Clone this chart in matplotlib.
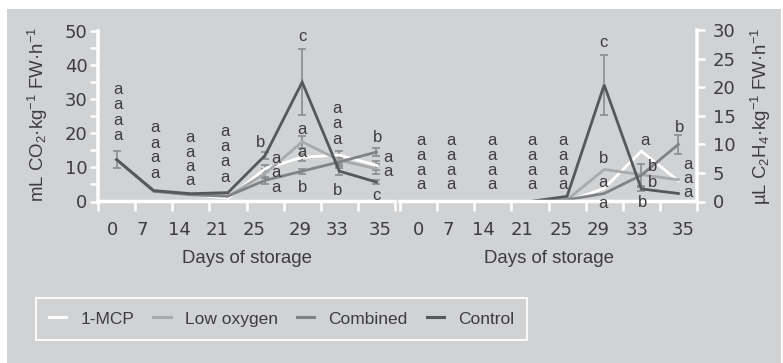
import numpy as np
import matplotlib
matplotlib.use("Agg")
import matplotlib.pyplot as plt
from matplotlib.patches import Rectangle
from matplotlib.lines import Line2D
from matplotlib.ticker import FixedLocator, NullFormatter

plt.rcParams['font.family'] = ['Liberation Sans', 'DejaVu Sans']
plt.rcParams['mathtext.fontset'] = 'custom'
plt.rcParams['mathtext.rm'] = 'Liberation Sans'
plt.rcParams['mathtext.it'] = 'Liberation Sans:italic'
plt.rcParams['mathtext.bf'] = 'Liberation Sans:bold'

# ---------------- data ----------------
days = ["0", "7", "14", "21", "25", "29", "33", "35"]
series = ["1-MCP", "Low oxygen", "Combined", "Control"]

# respiration rate (mL CO2 kg-1 FW h-1)
co2_1mcp = [12.3, 3.0, 2.0, 1.0, 9.6, 13.0, 13.6, 10.6]
co2_low = [12.3, 3.0, 2.0, 1.5, 8.2, 17.5, 12.1, 9.6]
co2_comb = [12.3, 3.0, 2.0, 1.6, 6.2, 8.9, 11.6, 14.5]
co2_ctrl = [12.3, 3.2, 2.3, 2.6, 13.5, 35.0, 8.9, 5.7]

co2_err_1mcp = [0, 0, 0, 0, 1.0, 1.0, 1.3, 1.3]
co2_err_low = [0, 0, 0, 0, 1.2, 1.7, 1.0, 1.5]
co2_err_comb = [0, 0, 0, 0, 1.0, 0.7, 1.2, 1.1]
co2_err_ctrl = [2.6, 0, 0, 0, 1.0, 9.6, 1.0, 0.6]

# ethylene production (uL C2H4 kg-1 FW h-1)
eth_1mcp = [0, 0, 0, 0, 0.0, 2.3, 8.8, 3.6]
eth_low = [0, 0, 0, 0, 0.3, 5.6, 4.7, 3.8]
eth_comb = [0, 0, 0, 0, 0.3, 1.4, 4.6, 10.0]
eth_ctrl = [0, 0, 0, 0, 0.9, 20.4, 2.2, 1.4]

eth_err_1mcp = [0, 0, 0, 0, 0, 0, 0, 0]
eth_err_low = [0, 0, 0, 0, 0, 0, 0, 0]
eth_err_comb = [0, 0, 0, 0, 0, 0, 1.9, 1.7]
eth_err_ctrl = [0, 0, 0, 0, 0, 5.3, 0.4, 0]

# significance letters per day
co2_sig = [["a", "a", "a", "a"], ["a", "a", "a", "a"], ["a", "a", "a", "a"],
           ["a", "a", "a", "a"], ["b", "a", "a", "a"], ["c", "a", "a", "b"],
           ["a", "a", "a", "b"], ["b", "a", "a", "c"]]
eth_sig = [["a", "a", "a", "a"], ["a", "a", "a", "a"], ["a", "a", "a", "a"],
           ["a", "a", "a", "a"], ["a", "a", "a", "a"], ["c", "b", "a", "a"],
           ["a", "b", "b", "b"], ["b", "a", "a", "a"]]

# ---------------- placement of letters (layout) ----------------
co2_sig_y = [[32.7, 28.3, 23.9, 19.5], [21.6, 17.1, 13.0, 8.3], [18.9, 14.5, 10.4, 6.3],
             [20.4, 16.0, 11.6, 7.1], [17.4, 12.7, 8.6, 4.2], [48.3, 21.2, 14.5, 4.2],
             [27.4, 22.9, 18.2, 3.3], [18.9, 13.0, 8.9, 1.9]]
co2_sig_dx = [[0.04] * 4, [0.03] * 4, [-0.02] * 4, [-0.08] * 4,
              [-0.11, 0.30, 0.30, 0.30], [0.0] * 4, [-0.06] * 4,
              [0.02, 0.31, 0.31, -0.01]]
eth_sig_y = [[10.7, 8.1, 5.5, 2.9]] * 5 + [[27.8, 7.6, 3.4, -0.4],
                                          [10.7, 6.2, 3.4, -0.1],
                                          [13.0, 6.5, 4.1, 1.6]]
eth_sig_dx = [[0.06] * 4, [-0.13] * 4, [-0.02] * 4, [0.06] * 4, [-0.11] * 4,
              [-0.03] * 4, [0.10, 0.30, 0.30, 0.03], [0.02, 0.26, 0.26, 0.26]]
lab_dx_left = [-0.1, -0.3, -0.3, -0.3, -0.3, -0.05, -0.05, 0.1]
lab_dx_right = [0.0, -0.2, -0.25, -0.2, -0.15, -0.15, -0.1, 0.13]

# ---------------- style ----------------
BG = '#d1d2d4'
TXT = '#3d3d3f'
colors = ['#ffffff', '#a9aaac', '#818285', '#57585a']
ERR = '#8b8c8e'
LW = 2.0

W, H = 783, 363
fig = plt.figure(figsize=(W / 100, H / 100), dpi=100)
fig.patch.set_facecolor('white')
fig.add_artist(Rectangle((7 / W, 0), (781 - 7) / W, (H - 9) / H,
                         transform=fig.transFigure, facecolor=BG,
                         edgecolor='none', zorder=-10))

axL = fig.add_axes([98 / W, 1 - 201.5 / H, 297 / W, 170.5 / H])
axR = fig.add_axes([400 / W, 1 - 201.5 / H, 297 / W, 171.5 / H])

x = np.arange(len(days))


def draw(ax, vals, errs, sig, sig_y, sig_dx, ymax, lab_dx):
    ax.set_facecolor('none')
    for v, e, c in zip(vals, errs, colors):
        v = np.asarray(v, float)
        e = np.asarray(e, float)
        m = e > 0
        if m.any():
            ax.errorbar(x[m], v[m], yerr=e[m], fmt='none', ecolor=ERR,
                        elinewidth=1.2, capsize=3, capthick=1.2, zorder=2.1)
    for v, c in zip(vals, colors):
        ax.plot(x, v, color=c, lw=LW, zorder=2.2, solid_joinstyle='miter')
    for i in range(len(days)):
        for s, yy, dx in zip(sig[i], sig_y[i], sig_dx[i]):
            ax.text(x[i] + dx, yy, s, ha='center', va='center', fontsize=12,
                    color=TXT, zorder=5, clip_on=False)
    ax.set_xlim(-0.5, len(days) - 0.5)
    ax.set_ylim(0, ymax)
    ax.set_xticks(x + np.asarray(lab_dx))
    ax.set_xticklabels(days)
    ax.xaxis.set_minor_locator(FixedLocator(np.arange(-0.5, len(days), 1.0)))
    ax.xaxis.set_minor_formatter(NullFormatter())
    ax.tick_params(axis='x', which='major', length=0, pad=14, labelsize=13,
                   labelcolor=TXT)
    ax.tick_params(axis='x', which='minor', length=6.5, width=1.8,
                   color='white', direction='out')
    for t in ax.get_xticklabels():
        t.set_fontfamily('DejaVu Sans')
    for sp in ax.spines.values():
        sp.set_color('white')
        sp.set_linewidth(2.5)
        sp.set_zorder(2.5)
        sp.set_snap(False)
    ax.text(0.5, -(263 - 201.5) / 170.5, 'Days of storage', transform=ax.transAxes,
            ha='center', va='baseline', fontsize=13.4, color=TXT)


draw(axL, [co2_1mcp, co2_low, co2_comb, co2_ctrl],
     [co2_err_1mcp, co2_err_low, co2_err_comb, co2_err_ctrl],
     co2_sig, co2_sig_y, co2_sig_dx, 50, lab_dx_left)
draw(axR, [eth_1mcp, eth_low, eth_comb, eth_ctrl],
     [eth_err_1mcp, eth_err_low, eth_err_comb, eth_err_ctrl],
     eth_sig, eth_sig_y, eth_sig_dx, 30, lab_dx_right)

# left axis
axL.spines['top'].set_visible(False)
axL.spines['right'].set_visible(False)
axL.set_yticks(np.arange(0, 51, 10))
axL.yaxis.set_minor_locator(FixedLocator(np.arange(5, 50, 10)))
axL.tick_params(axis='y', which='both', length=6, width=1.8, color='white',
                direction='out', pad=1.5, labelsize=13, labelcolor=TXT)
for t in axL.get_yticklabels():
    t.set_fontfamily('DejaVu Sans')

# right axis
axR.spines['top'].set_visible(False)
axR.spines['left'].set_visible(False)
axR.yaxis.tick_right()
axR.set_yticks(np.arange(0, 31, 5))
axR.tick_params(axis='y', which='both', length=6, width=1.8, color='white',
                direction='out', pad=5.5, labelsize=13, labelcolor=TXT,
                left=False, right=True, labelleft=False, labelright=True)
for t in axR.get_yticklabels():
    t.set_fontfamily('DejaVu Sans')

fig.text(44 / W, 1 - 114 / H, 'mL CO$_2$·kg$^{-1}$ FW·h$^{-1}$', rotation=90,
         rotation_mode='anchor', ha='center', va='baseline', fontsize=13.4,
         color=TXT)
fig.text(767 / W, 1 - 116 / H, 'µL C$_2$H$_4$·kg$^{-1}$ FW·h$^{-1}$', rotation=90,
         rotation_mode='anchor', ha='center', va='baseline', fontsize=13.4,
         color=TXT)

handles = [Line2D([], [], color=c, lw=2.2) for c in colors]
leg = fig.legend(handles, series, loc='center', ncol=4, mode='expand',
                 bbox_to_anchor=(36 / W, 1 - 342 / H, (527 - 36) / W, 46 / H),
                 bbox_transform=fig.transFigure, frameon=True, fancybox=False,
                 handlelength=1.0, handletextpad=0.8, borderpad=0.75,
                 borderaxespad=0.0, columnspacing=2.0,
                 prop={'family': 'Liberation Sans', 'size': 12.5})
fr = leg.get_frame()
fr.set_facecolor(BG)
fr.set_edgecolor('white')
fr.set_linewidth(1.3)
fr.set_alpha(1)
for t in leg.get_texts():
    t.set_color(TXT)

fig.savefig('out.png', dpi=100)
